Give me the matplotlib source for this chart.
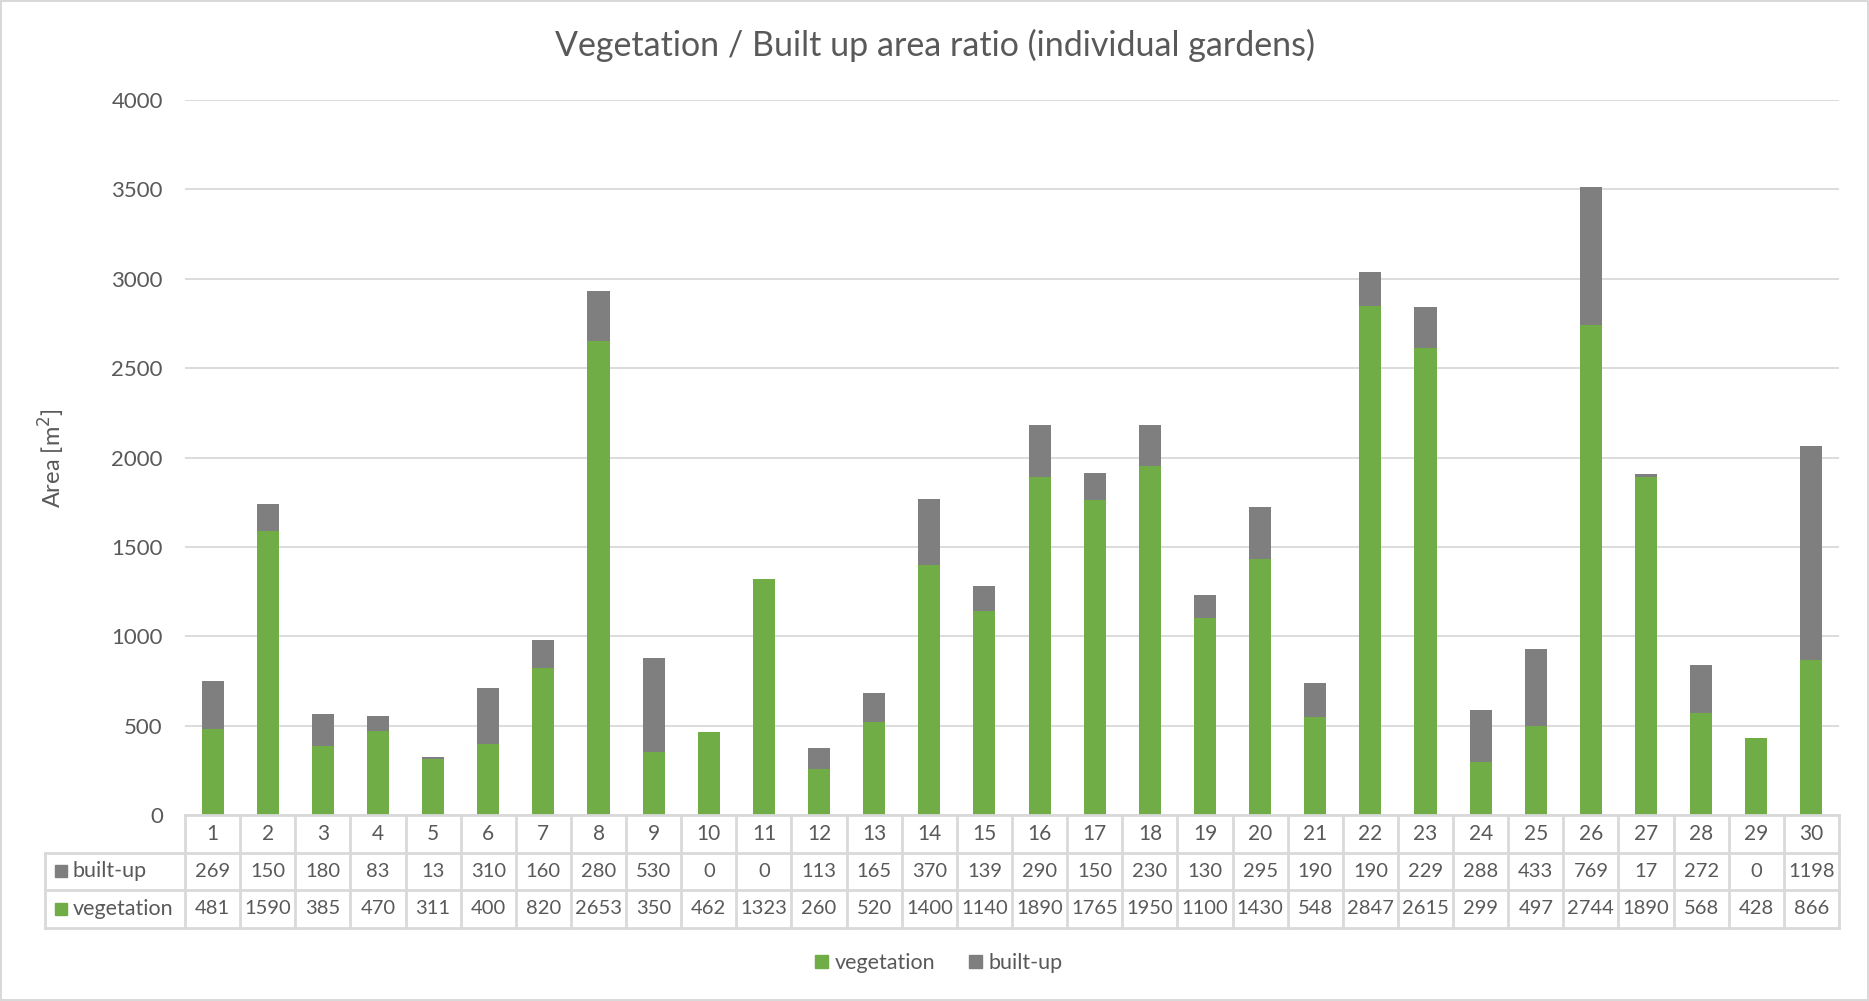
import numpy as np
import matplotlib
matplotlib.use('Agg')
import matplotlib.pyplot as plt
from matplotlib.patches import Patch
from matplotlib.transforms import blended_transform_factory

plt.rcParams['font.family'] = ['Lato', 'DejaVu Sans']

gardens = [str(i) for i in range(1, 31)]
built_up = [269, 150, 180, 83, 13, 310, 160, 280, 530, 0, 0, 113, 165, 370, 139,
            290, 150, 230, 130, 295, 190, 190, 229, 288, 433, 769, 17, 272, 0, 1198]
vegetation = [481, 1590, 385, 470, 311, 400, 820, 2653, 350, 462, 1323, 260, 520, 1400, 1140,
              1890, 1765, 1950, 1100, 1430, 548, 2847, 2615, 299, 497, 2744, 1890, 568, 428, 866]

green = '#70AD47'
grey = '#7F7F7F'
txt = '#595959'
line = '#D9D9D9'

W, H = 1869, 1001
fig = plt.figure(figsize=(W / 100, H / 100), dpi=100)
fig.patch.set_edgecolor(line)
fig.patch.set_linewidth(1.5)

left, right, top, bottom = 185, 1839, 100, 815
ax = fig.add_axes([left / W, 1 - bottom / H, (right - left) / W, (bottom - top) / H])

x = np.arange(len(gardens))
ax.bar(x, vegetation, 0.4, color=green, zorder=2)
ax.bar(x, built_up, 0.4, bottom=vegetation, color=grey, zorder=2)

ax.set_xlim(-0.5, len(gardens) - 0.5)
ax.set_ylim(0, 4000)
ax.set_yticks(range(0, 4001, 500))
ax.set_xticks([])
ax.yaxis.grid(True, color=line, lw=1.3)
ax.set_axisbelow(True)
for s in ['top', 'right', 'left']:
    ax.spines[s].set_visible(False)
ax.spines['bottom'].set_color(line)
ax.spines['bottom'].set_linewidth(2)
ax.tick_params(axis='y', length=0, pad=16, labelsize=16, labelcolor=txt)

# data table under the chart
trans = blended_transform_factory(ax.transData, ax.transAxes)
rh = 37.5 / (bottom - top)
unit = (right - left) / len(gardens)
xl = -0.5 - (left - 45) / unit
xr = len(gardens) - 0.5
kw = dict(transform=trans, clip_on=False, color=line, lw=2)
for b in np.arange(-0.5, len(gardens)):
    ax.plot([b, b], [0, -3 * rh], **kw)
ax.plot([xl, xl], [-rh, -3 * rh], **kw)
for k in (1, 2, 3):
    ax.plot([xl, xr], [-k * rh, -k * rh], **kw)

for i in range(len(gardens)):
    ax.text(i, -0.5 * rh, gardens[i], transform=trans, ha='center', va='center', fontsize=15, color=txt)
    ax.text(i, -1.5 * rh, str(built_up[i]), transform=trans, ha='center', va='center', fontsize=14.5, color=txt)
    ax.text(i, -2.5 * rh, str(vegetation[i]), transform=trans, ha='center', va='center', fontsize=14.5, color=txt)

for row, (name, col) in enumerate([('built-up', grey), ('vegetation', green)]):
    yy = -(row + 1.5) * rh
    ax.plot([xl + 16 / unit], [yy], marker='s', ms=8.5, color=col, transform=trans, clip_on=False)
    ax.text(xl + 28 / unit, yy, name, transform=trans, ha='left', va='center', fontsize=15.5, color=txt)

fig.text(0.5, 1 - 45 / H, 'Vegetation / Built up area ratio (individual gardens)',
         ha='center', va='center', fontsize=24.5, color=txt)
fig.text(52 / W, 1 - 458 / H, 'Area [m$^2$]', rotation=90, ha='center', va='center',
         fontsize=17, color=txt)

handles = [Patch(color=green, label='vegetation'), Patch(color=grey, label='built-up')]
fig.legend(handles=handles, loc='center', bbox_to_anchor=(939 / W, 1 - 963 / H), ncol=2,
           frameon=False, fontsize=15.5, labelcolor=txt, handlelength=0.6, handleheight=0.6,
           handletextpad=0.3, columnspacing=1.6)

fig.savefig('out.png', dpi=100, edgecolor=fig.get_edgecolor())
